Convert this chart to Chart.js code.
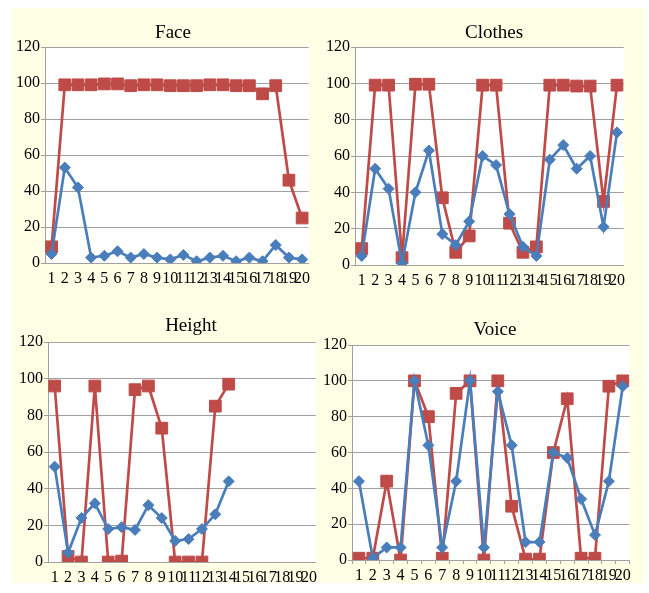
<!DOCTYPE html>
<html>
<head>
<meta charset="utf-8">
<script src="https://cdn.jsdelivr.net/npm/chart.js@4/dist/chart.umd.min.js"></script>
<style>
  html, body { margin: 0; padding: 0; background: #fff; }
  #page { position: relative; width: 649px; height: 593px; overflow: hidden; background: #fff; }
  #cream { position: absolute; left: 12px; top: 8px; width: 633px; height: 575px; background: #ffffe6; }
  .panel { position: absolute; }
  .ttl { position: absolute; font-family: "Liberation Serif", "Times New Roman", serif; font-size: 19px; color: #000; transform: translateX(-50%); white-space: nowrap; }
</style>
</head>
<body>
<div id="page">
  <div id="cream"></div>
  <canvas id="c0" class="panel"></canvas>
  <canvas id="c1" class="panel"></canvas>
  <canvas id="c2" class="panel"></canvas>
  <canvas id="c3" class="panel"></canvas>
  <div class="ttl" style="left:173px;top:21px">Face</div>
  <div class="ttl" style="left:494px;top:21px">Clothes</div>
  <div class="ttl" style="left:191px;top:314px">Height</div>
  <div class="ttl" style="left:495px;top:318px">Voice</div>
</div>
<script>
"use strict";

/* categories and tick values */
var categories = ['1','2','3','4','5','6','7','8','9','10','11','12','13','14','15','16','17','18','19','20'];
var yTicks = [0, 20, 40, 60, 80, 100, 120];

/* series values */
var faceBlue = [5, 53, 42, 3, 4, 6.5, 3, 5, 3, 2, 4.5, 1, 3, 4, 1, 3, 1, 10, 3, 2];
var faceRed = [9, 99, 99, 99, 99.5, 99.5, 98.5, 99, 99, 98.5, 98.5, 98.5, 99, 99, 98.5, 98.5, 94, 98.5, 46, 25];

var clothesBlue = [5, 53, 42, 1, 40, 63, 17, 11, 24, 60, 55, 28, 10, 5, 58, 66, 53, 60, 21, 73];
var clothesRed = [9, 99, 99, 4, 99.5, 99.5, 37, 7, 16, 99, 99, 23, 7, 10, 99, 99, 98.5, 98.5, 35, 99];

var heightBlue = [52, 5, 24, 32, 18, 19, 17.5, 31, 24, 11.5, 12.5, 18, 26, 44, null, null, null, null, null, null];
var heightRed = [96, 3, 0, 96, 0, 0.5, 94, 96, 73, 0, 0, 0, 85, 97, null, null, null, null, null, null];

var voiceBlue = [44, 1, 7, 7, 100, 64, 7, 44, 100, 7, 94, 64, 10, 10, 60, 57, 34, 14, 44, 97];
var voiceRed = [1, 1, 44, 0, 100, 80, 1, 93, 100, 0, 100, 30, 0.5, 0.5, 60, 90, 1, 1, 97, 100];

var blue = '#4a7ebb';
var red = '#be4b48';
var fontFamily = '"Liberation Serif", "Times New Roman", serif';

/* white plot area behind the lines */
var plotBg = {
    id: 'plotBg',
    beforeDraw: function (chart) {
        var a = chart.chartArea;
        var ctx = chart.ctx;
        ctx.save();
        ctx.fillStyle = '#ffffff';
        ctx.fillRect(a.left, a.top, a.right - a.left, a.bottom - a.top);
        ctx.restore();
    }
};

/* place one panel: canvas box, plus padding so the plot area lands where it should */
function makeChart(id, box, blueData, redData, xTicksMarks) {
    var el = document.getElementById(id);
    el.style.left = box.left + 'px';
    el.style.top = box.top + 'px';
    el.style.width = box.width + 'px';
    el.style.height = box.height + 'px';
    el.width = box.width;
    el.height = box.height;

    return new Chart(el, {
        type: 'line',
        data: {
            labels: categories,
            datasets: [{
                label: 'blue',
                data: blueData,
                borderColor: blue,
                backgroundColor: blue,
                borderWidth: 2.7,
                pointStyle: 'rectRot',
                pointRadius: 5.5,
                pointBorderWidth: 1,
                tension: 0,
                spanGaps: false
            }, {
                label: 'red',
                data: redData,
                borderColor: red,
                backgroundColor: red,
                borderWidth: 2.7,
                pointStyle: 'rect',
                pointRadius: 8.3,
                pointBorderWidth: 1,
                tension: 0,
                spanGaps: false
            }]
        },
        options: {
            responsive: false,
            animation: false,
            layout: { padding: { top: box.padTop, right: box.padRight, left: 0, bottom: 0 } },
            plugins: { legend: { display: false }, title: { display: false }, tooltip: { enabled: false } },
            scales: {
                x: {
                    type: 'category',
                    offset: true,
                    grid: {
                        offset: true,
                        drawOnChartArea: false,
                        drawTicks: xTicksMarks,
                        tickLength: 4,
                        color: '#a0a0a0'
                    },
                    border: { color: '#a0a0a0', width: 1 },
                    ticks: {
                        autoSkip: false,
                        maxRotation: 0,
                        minRotation: 0,
                        padding: xTicksMarks ? 2 : 6,
                        color: '#000',
                        font: { family: fontFamily, size: 16 }
                    },
                    afterFit: function (s) { s.height = 30; }
                },
                y: {
                    min: 0,
                    max: 120,
                    afterBuildTicks: function (s) {
                        s.ticks = yTicks.map(function (v) { return { value: v }; });
                    },
                    grid: { color: '#a0a0a0', tickLength: 4, lineWidth: 1 },
                    border: { color: '#a0a0a0', width: 1 },
                    ticks: {
                        padding: 1,
                        color: '#000',
                        font: { family: fontFamily, size: 16 }
                    },
                    afterFit: function (s) { s.width = 33; }
                }
            }
        },
        plugins: [plotBg]
    });
}

var charts = [];
charts.push(makeChart('c0', { left: 12, top: 12, width: 306, height: 281, padTop: 35, padRight: 5 }, faceBlue, faceRed, false));
charts.push(makeChart('c1', { left: 322, top: 12, width: 311, height: 283, padTop: 35, padRight: 5 }, clothesBlue, clothesRed, false));
charts.push(makeChart('c2', { left: 15, top: 305, width: 310, height: 287, padTop: 37, padRight: 2 }, heightBlue, heightRed, false));
charts.push(makeChart('c3', { left: 319, top: 309, width: 320, height: 281, padTop: 36, padRight: 3 }, voiceBlue, voiceRed, true));
</script>
</body>
</html>
